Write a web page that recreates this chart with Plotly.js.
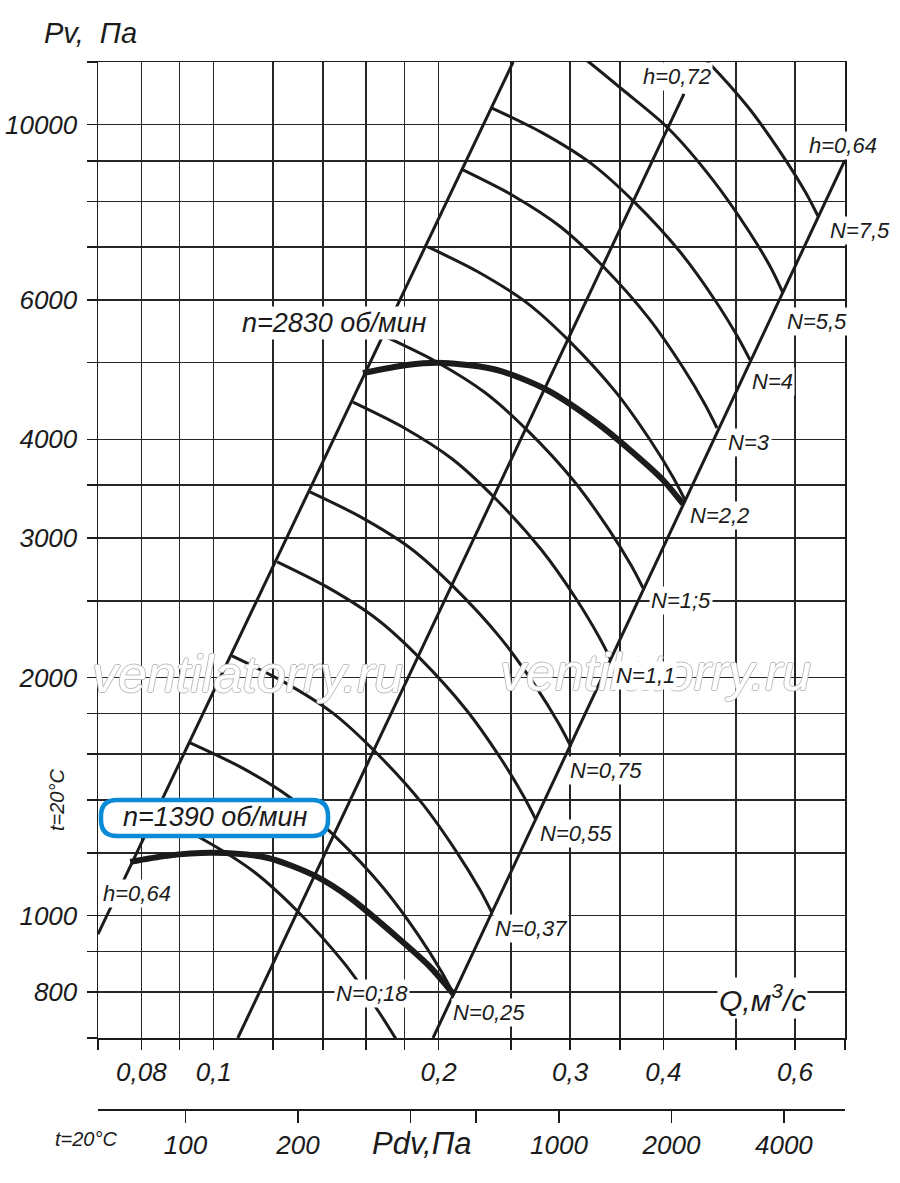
<!DOCTYPE html>
<html>
<head>
<meta charset="utf-8">
<script src="https://cdn.plot.ly/plotly-3.0.1.min.js"></script>
<style>
  html, body { margin: 0; padding: 0; background: #fff; }
  #chart { width: 900px; height: 1183px; }
</style>
</head>
<body>
<div id="chart"></div>
<script>
// axis ticks
const qTicks = [0.07, 0.08, 0.09, 0.1, 0.12, 0.14, 0.16, 0.18, 0.2, 0.25, 0.3, 0.35, 0.4, 0.5, 0.6, 0.7];
const qTickText = ['', '0,08', '', '0,1', '', '', '', '', '0,2', '', '0,3', '', '0,4', '', '0,6', ''];
const pTicks = [700, 800, 900, 1000, 1200, 1400, 1600, 1800, 2000, 2500, 3000, 3500, 4000, 5000, 6000, 7000, 8000, 9000, 10000, 12000];
const pTickText = ['', '800', '', '1000', '', '', '', '', '2000', '', '3000', '', '4000', '', '6000', '', '', '', '10000', ''];
const pdvTicks = [100, 200, 400, 600, 1000, 2000, 4000];
const pdvTickText = ['100', '200', '', '', '1000', '2000', '4000'];

// efficiency lines (h)
const hLeftQ = [0.07, 0.2517];
const hLeftP = [947, 12000];
const hMidQ = [0.1077, 0.4261];
const hMidP = [700, 10933];
const hRightQ = [0.1966, 0.7];
const hRightP = [700, 9023];

// thin curves, one per motor power N
const arc018Q = [0.0832, 0.0971, 0.1132, 0.1293, 0.1494, 0.1664, 0.1787];
const arc018P = [1341, 1246, 1136, 1014, 871, 755, 678];
const arc025Q = [0.0930, 0.1087, 0.1271, 0.1455, 0.1685, 0.188, 0.2021, 0.2097];
const arc025P = [1653, 1540, 1406, 1258, 1085, 944, 847, 794];
const arc037Q = [0.1058, 0.1234, 0.1441, 0.1644, 0.1901, 0.2116, 0.2273, 0.2358];
const arc037P = [2129, 1980, 1805, 1612, 1386, 1202, 1077, 1008];
const arc055Q = [0.1216, 0.1417, 0.1653, 0.1886, 0.2179, 0.2425, 0.2603, 0.27];
const arc055P = [2800, 2603, 2371, 2117, 1819, 1577, 1412, 1321];
const arc075Q = [0.1345, 0.157, 0.1834, 0.2095, 0.2423, 0.2699, 0.2899, 0.3008];
const arc075P = [3432, 3194, 2913, 2603, 2241, 1947, 1746, 1634];
const arc11Q = [0.1536, 0.179, 0.2086, 0.2379, 0.2747, 0.3057, 0.328, 0.3403];
const arc11P = [4459, 4147, 3778, 3372, 2898, 2513, 2250, 2104];
const arc15Q = [0.1701, 0.198, 0.2307, 0.263, 0.3035, 0.3375, 0.3622, 0.3756];
const arc15P = [5389, 5021, 4584, 4106, 3543, 3084, 2770, 2595];
const arc22Q = [0.1936, 0.2254, 0.2626, 0.2993, 0.3454, 0.3841, 0.4122, 0.4274];
const arc22P = [7003, 6521, 5952, 5325, 4589, 3989, 3580, 3353];
const arc3Q = [0.2156, 0.2507, 0.2915, 0.3317, 0.3822, 0.4244, 0.4551, 0.4718];
const arc3P = [8764, 8148, 7423, 6626, 5693, 4937, 4421, 4134];
const arc4Q = [0.2358, 0.2747, 0.3203, 0.3652, 0.4217, 0.4692, 0.5034, 0.5223];
const arc4P = [10495, 9777, 8926, 7990, 6890, 5993, 5380, 5040];
const arc55Q = [0.2907, 0.319, 0.3531, 0.4056, 0.466, 0.5223, 0.5572, 0.5782];
const arc55P = [12794, 11965, 11061, 9903, 8509, 7295, 6588, 6126];
const arc75Q = [0.3933, 0.4491, 0.5191, 0.5782, 0.6206, 0.644];
const arc75P = [13721, 12247, 10525, 9124, 8195, 7665];

// working curves for the two speeds
const n2830Q = [0.1584, 0.1815, 0.2028, 0.2395, 0.2794, 0.3259, 0.3608, 0.3994, 0.4248];
const n2830P = [4852, 4968, 4996, 4895, 4618, 4195, 3878, 3554, 3314];
const n1390Q = [0.0773, 0.0866, 0.0998, 0.1179, 0.1375, 0.1522, 0.1776, 0.1948, 0.2097];
const n1390P = [1169, 1190, 1200, 1183, 1119, 1053, 932, 861, 794];

const ink = '#1b1b1b';
const font = 'Liberation Sans, Arial, sans-serif';

function straight(q, p) {
  return {x: q, y: p, mode: 'lines', line: {color: ink, width: 3}, hoverinfo: 'skip', showlegend: false};
}
function curve(q, p, w) {
  return {x: q, y: p, mode: 'lines', line: {color: ink, width: w, shape: 'spline', smoothing: 0.8},
    hoverinfo: 'skip', showlegend: false};
}

const data = [
  straight(hLeftQ, hLeftP),
  straight(hMidQ, hMidP),
  straight(hRightQ, hRightP),
  curve(arc018Q, arc018P, 3),
  curve(arc025Q, arc025P, 3),
  curve(arc037Q, arc037P, 3),
  curve(arc055Q, arc055P, 3),
  curve(arc075Q, arc075P, 3),
  curve(arc11Q, arc11P, 3),
  curve(arc15Q, arc15P, 3),
  curve(arc22Q, arc22P, 3),
  curve(arc3Q, arc3P, 3),
  curve(arc4Q, arc4P, 3),
  curve(arc55Q, arc55P, 3),
  curve(arc75Q, arc75P, 3),
  curve(n2830Q, n2830P, 6),
  curve(n1390Q, n1390P, 6),
  // empty trace so the Pdv scale gets drawn
  {x: pdvTicks, y: pdvTicks.map(() => null), xaxis: 'x2', yaxis: 'y', mode: 'lines',
    hoverinfo: 'skip', showlegend: false},
];

// picture position -> paper position (for text only)
const px = (x) => (x - 98) / 747;
const py = (y) => (1109 - y) / 1047;

function lab(text, x, y, size, extra) {
  return Object.assign({
    text: text, x: px(x), y: py(y), xref: 'paper', yref: 'paper',
    showarrow: false, xanchor: 'center', yanchor: 'middle',
    font: {family: font, size: size, color: ink, style: 'italic'},
  }, extra || {});
}
const boxed = {bgcolor: '#ffffff', borderpad: 1};
const mark = '1px 0 0 #bdbdbd, -1px 0 0 #bdbdbd, 0 1px 0 #bdbdbd, 0 -1px 0 #bdbdbd';

const annotations = [
  lab('ventilatorry.ru', 247, 674, 52, {font: {family: font, size: 52, color: '#ffffff', style: 'italic', shadow: mark}}),
  lab('ventilatorry.ru', 655, 672, 52, {font: {family: font, size: 52, color: '#ffffff', style: 'italic', shadow: mark}}),
  lab('Pv,  Па', 90, 33, 29),
  lab('Q,м<sup>3</sup>/с', 762, 998, 30, boxed),
  lab('Pdv,Па', 421, 1143, 31),
  lab('t=20°C', 86, 1139, 20),
  lab('t=20°C', 57, 800, 20, {textangle: -90}),
  lab('n=2830 об/мин', 334, 323, 27, boxed),
  lab('n=1390 об/мин', 215, 817, 27),
  lab('h=0,64', 137, 893, 22, boxed),
  lab('h=0,72', 677, 77, 22, boxed),
  lab('h=0,64', 843, 146, 22, boxed),
  lab('N=7,5', 860, 230, 22, boxed),
  lab('N=5,5', 817, 321, 22, boxed),
  lab('N=4', 772, 381, 22, boxed),
  lab('N=3', 749, 442, 22, boxed),
  lab('N=2,2', 719, 515, 22, boxed),
  lab('N=1;5', 681, 600, 22, boxed),
  lab('N=1,1', 645, 675, 22, boxed),
  lab('N=0,75', 606, 770, 22, boxed),
  lab('N=0,55', 576, 833, 22, boxed),
  lab('N=0,37', 531, 928, 22, boxed),
  lab('N=0,25', 489, 1012, 22, boxed),
  lab('N=0;18', 372, 993, 22, boxed),
];

// rounded frame round the n=1390 label
function roundBox(x0, y0, x1, y1, r) {
  const X = (v) => px(v).toFixed(5);
  const Y = (v) => py(v).toFixed(5);
  return 'M' + X(x0 + r) + ',' + Y(y0) + ' L' + X(x1 - r) + ',' + Y(y0) +
    ' Q' + X(x1) + ',' + Y(y0) + ' ' + X(x1) + ',' + Y(y0 + r) +
    ' L' + X(x1) + ',' + Y(y1 - r) +
    ' Q' + X(x1) + ',' + Y(y1) + ' ' + X(x1 - r) + ',' + Y(y1) +
    ' L' + X(x0 + r) + ',' + Y(y1) +
    ' Q' + X(x0) + ',' + Y(y1) + ' ' + X(x0) + ',' + Y(y1 - r) +
    ' L' + X(x0) + ',' + Y(y0 + r) +
    ' Q' + X(x0) + ',' + Y(y0) + ' ' + X(x0 + r) + ',' + Y(y0) + ' Z';
}

const tickFont = {family: font, size: 26, color: ink, style: 'italic'};

const layout = {
  width: 900,
  height: 1183,
  margin: {l: 98, r: 55, t: 62, b: 74},
  paper_bgcolor: '#ffffff',
  plot_bgcolor: '#ffffff',
  showlegend: false,
  xaxis: {
    type: 'log',
    range: [Math.log10(0.07), Math.log10(0.7)],
    tickmode: 'array', tickvals: qTicks, ticktext: qTickText,
    ticks: 'outside', ticklen: 10, tickwidth: 1.5, tickcolor: ink,
    showgrid: true, gridcolor: '#262626', gridwidth: 1.5,
    showline: true, linecolor: ink, linewidth: 1.5, mirror: true,
    zeroline: false, tickfont: tickFont, anchor: 'y',
  },
  yaxis: {
    type: 'log',
    range: [Math.log10(700), Math.log10(12000)],
    domain: [71 / 1047, 1],
    tickmode: 'array', tickvals: pTicks, ticktext: pTickText,
    ticks: 'outside', ticklen: 10, tickwidth: 1.5, tickcolor: ink,
    showgrid: true, gridcolor: '#262626', gridwidth: 1.5,
    showline: true, linecolor: ink, linewidth: 1.5, mirror: true,
    zeroline: false, tickfont: tickFont, ticklabelstandoff: 4,
  },
  xaxis2: {
    type: 'log',
    overlaying: 'x',
    anchor: 'free',
    position: 0,
    side: 'bottom',
    range: [Math.log10(58.3), Math.log10(5830)],
    tickmode: 'array', tickvals: pdvTicks, ticktext: pdvTickText,
    ticks: 'outside', ticklen: 12, tickwidth: 1.5, tickcolor: ink,
    showgrid: false, showline: true, linecolor: ink, linewidth: 1.5,
    zeroline: false, tickfont: tickFont,
  },
  shapes: [{
    type: 'path', xref: 'paper', yref: 'paper', layer: 'above',
    path: roundBox(101, 800, 328, 836, 16),
    fillcolor: '#ffffff',
    line: {color: '#0b8ad6', width: 4.5},
  }],
  annotations: annotations,
};

Plotly.newPlot('chart', data, layout, {staticPlot: true});
</script>
</body>
</html>
